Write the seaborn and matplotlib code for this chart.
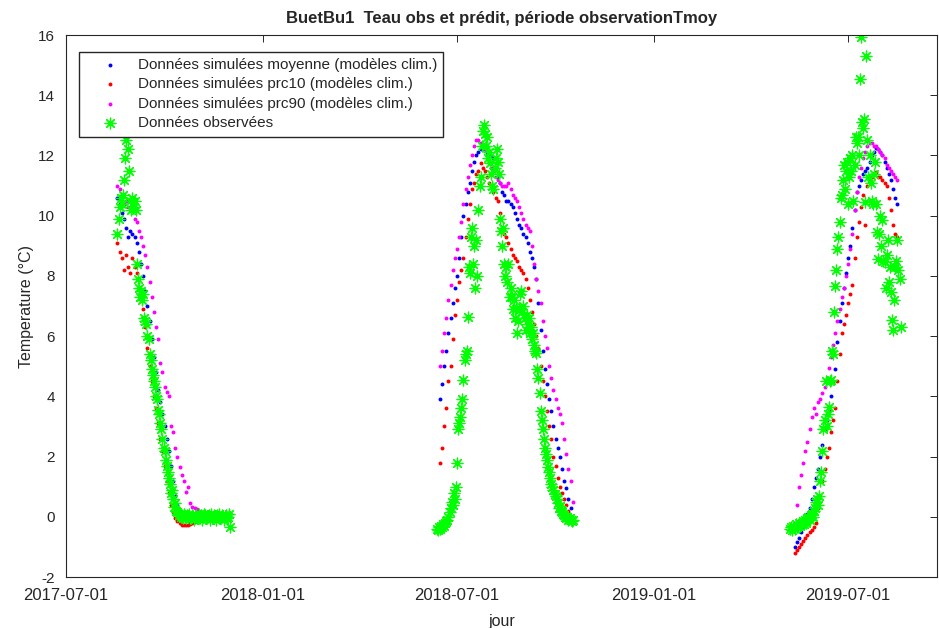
import pandas as pd
import matplotlib.pyplot as plt
import matplotlib.dates as mdates
import seaborn as sns

# Simulated series: one value every 2 days, from these start dates
sim_start = ['2017-08-18', '2018-06-15', '2019-05-12']

moy_2017 = [10.6, 10.4, 10.1, 9.9, 9.6, 9.3, 9.5, 9.4, 9.3, 9.1,
            8.8, 8.4, 8.0, 7.5, 7.0, 6.5, 5.9, 5.3, 4.8, 4.2,
            3.8, 3.4, 3.0, 2.6, 2.2, 1.7, 1.2, 0.7, 0.4, 0.2,
            0.1, 0.0, -0.05, -0.1, -0.15, -0.15, -0.1, -0.1, -0.05, 0.0]
moy_2018 = [3.9, 4.4, 5.0, 5.5, 6.1, 6.6, 7.1, 7.6, 8.0, 8.6,
            9.3, 10.0, 10.4, 10.8, 11.1, 11.5, 11.8, 12.0, 12.1, 12.2,
            12.2, 12.2, 12.1, 12.1, 12.0, 11.9, 11.6, 11.3, 11.1, 10.8,
            10.7, 10.5, 10.5, 10.4, 10.3, 10.1, 9.9, 9.7, 9.6, 9.4,
            9.3, 9.1, 8.8, 8.6, 8.3, 7.9, 7.1, 6.2, 5.5, 4.9,
            4.4, 3.9, 3.5, 3.0, 2.6, 2.3, 2.0, 1.6, 1.2, 0.95,
            0.6, 0.3, -0.1]
moy_2019 = [-1.0, -0.85, -0.7, -0.5, -0.35, -0.1, 0.1, 0.3, 0.6, 1.0,
            1.3, 1.6, 2.0, 2.4, 2.9, 3.2, 3.5, 4.0, 4.5, 4.9,
            5.8, 6.5, 7.1, 7.6, 8.1, 8.6, 9.0, 9.6, 10.2, 10.8,
            11.0, 11.2, 11.4, 11.5, 11.6, 11.8, 12.0, 12.1, 12.25, 12.2,
            12.1, 12.0, 11.8, 11.6, 11.4, 11.2, 10.9, 10.6, 10.4]

prc10_2017 = [9.1, 8.8, 8.6, 8.2, 8.7, 8.3, 8.1, 8.6, 8.3, 8.1,
              7.6, 7.3, 6.9, 6.3, 5.6, 5.0, 4.5, 4.0, 3.6, 3.1,
              2.6, 2.2, 1.7, 1.2, 0.8, 0.4, 0.15, -0.05, -0.15, -0.22,
              -0.27, -0.28, -0.28, -0.27, -0.25, -0.22, -0.18, -0.12, -0.08, -0.05]
prc10_2018 = [1.8, 2.3, 3.0, 3.6, 4.5, 5.0, 5.9, 6.7, 7.2, 7.8,
              8.2, 8.6, 9.3, 9.9, 10.4, 10.9, 11.1, 11.4, 11.5, 11.75,
              11.6, 11.5, 11.3, 11.1, 11.0, 10.8, 10.6, 10.5, 10.1, 9.6,
              9.4, 9.3, 9.1, 8.9, 8.7, 8.6, 8.5, 8.3, 8.2, 8.1,
              7.9, 7.6, 7.2, 6.8, 6.4, 6.0, 5.6, 5.0, 4.5, 4.0,
              3.5, 3.0, 2.6, 2.0, 1.7, 1.3, 1.0, 0.8, 0.6, 0.4,
              0.2, 0.0, -0.2]
prc10_2019 = [-1.2, -1.1, -1.0, -0.9, -0.8, -0.7, -0.6, -0.5, -0.45, -0.35,
              -0.2, 0.3, 0.7, 1.2, 1.6, 2.0, 2.3, 2.8, 3.2, 3.6,
              4.5, 5.4, 6.1, 6.4, 6.7, 7.1, 7.4, 7.7, 8.6, 9.3,
              9.8, 10.3, 10.7, 9.7, 11.0, 11.2, 11.3, 11.4, 11.45, 11.3,
              11.3, 11.2, 11.1, 11.0, 10.6, 10.2, 9.7, 9.4, 9.3]

prc90_2017 = [11.0, 10.9, 10.6, 10.4, 10.5, 10.3, 10.5, 10.2, 9.9, 9.8,
              9.5, 9.3, 9.0, 8.7, 8.3, 7.8, 7.3, 6.8, 6.3, 5.9,
              5.1, 4.8, 4.3, 4.15, 4.0, 3.0, 2.8, 2.3, 2.0, 1.66,
              1.4, 1.2, 0.83, 1.0, 0.46, 0.33, 0.3, 0.25, 0.2, 0.1]
prc90_2018 = [5.0, 5.5, 6.1, 6.6, 7.2, 7.7, 8.2, 8.6, 8.9, 9.3,
              9.8, 10.4, 10.9, 11.3, 11.7, 12.0, 12.3, 12.5, 12.5, 12.4,
              12.3, 12.2, 12.0, 11.8, 11.6, 11.5, 11.3, 11.2, 11.1, 11.0,
              11.0, 11.0, 11.1, 10.9, 10.7, 10.6, 10.5, 10.3, 10.1, 9.9,
              9.7, 9.6, 9.5, 9.0, 8.4, 7.9, 7.5, 7.1, 6.5, 6.0,
              5.6, 5.0, 4.6, 4.2, 3.9, 3.6, 3.4, 3.1, 2.6, 2.1,
              1.6, 1.2, 0.5]
prc90_2019 = [-0.2, 0.4, 1.0, 1.4, 1.8, 2.2, 2.5, 2.9, 3.3, 3.6,
              3.4, 3.8, 3.9, 4.1, 4.3, 4.6, 4.95, 5.3, 5.7, 6.1,
              6.5, 6.9, 7.3, 7.6, 8.0, 8.4, 8.9, 9.4, 10.2, 10.8,
              11.3, 11.6, 11.9, 12.1, 12.3, 12.4, 12.4, 12.3, 12.3, 12.2,
              12.1, 12.0, 11.9, 11.7, 11.6, 11.5, 11.4, 11.3, 11.2]

# Observed series: daily values, from these start dates
obs_start = ['2017-08-18', '2018-06-12', '2019-05-08']

obs_2017 = [9.4, 9.9, 10.3, 10.6, 10.4, 10.7, 11.2, 11.9, 12.5, 13.1, 12.2, 11.5, 10.5, 10.2,
            10.6, 10.3, 10.5, 10.2, 8.4, 7.9, 7.6, 7.3, 7.5, 7.2,
            7.4, 6.6, 6.5, 6.4, 6.0, 5.9, 5.4, 5.2, 4.9, 4.7,
            4.5, 4.3, 4.0, 3.9, 3.55, 3.4, 3.1, 2.9, 2.6, 2.3,
            2.2, 1.9, 1.7, 1.5, 1.3, 1.1, 0.8, 0.9, 0.6, 0.33,
            0.45, 0.2, 0.15, 0.05, 0.1, 0.0, 0.05, -0.05, 0.1, 0.0,
            -0.05, 0.05, 0.0, 0.1, -0.05, 0.0, 0.05, -0.1, 0.0, 0.05, -0.05,
            0.0, 0.1, -0.05, 0.05, -0.1, 0.0, 0.1, 0.05, -0.05, 0.0,
            0.05, -0.1, 0.1, 0.0, -0.05, 0.05, 0.0, -0.1, 0.05, 0.0,
            0.1, -0.05, 0.0, 0.05, -0.1, 0.0, 0.05, -0.05, 0.0, 0.1,
            -0.35]
obs_2018 = [-0.4, -0.45, -0.35, -0.4, -0.3, -0.35, -0.25, -0.3, -0.2, -0.15,
            -0.1, 0.0, 0.15, 0.3, 0.5, 0.4, 0.8, 0.6, 1.0,
            1.8, 2.9, 3.1, 3.3, 3.6, 3.9, 4.55, 5.2, 5.4, 5.5,
            6.65, 8.3, 8.1, 9.3, 9.6, 8.4, 9.0, 7.6, 9.2, 8.0,
            10.2, 11.0, 11.3, 12.3, 12.8, 13.0, 12.7, 12.3, 12.6, 11.9, 12.1,
            11.75, 11.4, 11.0, 10.9, 11.6, 11.9, 12.2, 11.8, 11.4, 9.9,
            9.5, 9.0, 9.6, 8.4, 8.0, 8.3, 7.8, 8.4, 7.3, 7.6,
            7.3, 6.9, 7.2, 6.6, 6.9, 6.1, 6.5, 6.9, 7.4, 7.5, 6.8,
            7.0, 6.6, 6.2, 6.7, 6.4, 6.6, 6.1, 6.3, 5.9, 6.1,
            5.7, 5.5, 5.45, 4.9, 4.6, 4.1, 3.5, 3.2, 2.9, 2.6,
            2.3, 2.1, 1.9, 1.66, 1.5, 1.3, 1.1, 1.0, 0.9, 0.75,
            0.7, 0.6, 0.45, 0.3, 0.35, 0.2, 0.15, 0.1, 0.05, 0.0,
            -0.05, 0.0, -0.1, -0.05, -0.1, -0.15, -0.1]
obs_2019 = [-0.4, -0.35, -0.45, -0.3, -0.4, -0.25, -0.35, -0.3, -0.2, -0.3,
            -0.25, -0.2, -0.15, -0.25, -0.1, -0.2, -0.05, 0.0, -0.1, 0.05,
            0.1, 0.0, 0.2, 0.3,
            0.5, 0.6, 0.4, 0.7, 1.2, 1.5, 2.2, 2.9, 3.2, 4.5,
            3.0, 3.4, 3.65, 4.5, 4.55, 5.5, 5.4, 6.8, 7.65, 8.2,
            8.9, 9.3, 9.8, 10.6, 10.7, 11.2, 11.7, 10.9, 11.5, 11.8,
            10.4, 11.3, 11.9, 11.5, 12.0, 10.5, 11.7, 12.6, 12.4, 12.6,
            12.0, 14.55, 15.95, 13.1, 12.9, 13.2, 10.45, 15.3, 12.5, 11.3,
            12.0, 11.1, 10.5, 10.4, 11.4, 11.8, 10.4, 9.45, 8.55, 9.4, 10.0,
            9.0, 9.85, 8.5, 8.45, 7.6, 8.7, 9.2, 7.8, 8.3, 7.45,
            6.55, 6.2, 7.2, 8.3, 8.5, 9.2, 8.2, 7.9, 6.3]


def to_frame(starts, chunks, step):
    # stack the periods of one series into a single table
    parts = []
    for start, vals in zip(starts, chunks):
        days = pd.date_range(start, periods=len(vals), freq=step)
        parts.append(pd.DataFrame({'jour': days, 'temp': vals}))
    return pd.concat(parts, ignore_index=True)


moy = to_frame(sim_start, [moy_2017, moy_2018, moy_2019], '2D')
prc10 = to_frame(sim_start, [prc10_2017, prc10_2018, prc10_2019], '2D')
prc90 = to_frame(sim_start, [prc90_2017, prc90_2018, prc90_2019], '2D')
obs = to_frame(obs_start, [obs_2017, obs_2018, obs_2019], '1D')

sns.set_style('white')
plt.rcParams['font.family'] = ['Liberation Sans', 'DejaVu Sans']
plt.rcParams['axes.unicode_minus'] = False

fig = plt.figure(figsize=(9.39, 6.28), dpi=100)
ax = fig.add_axes([0.0703, 0.0812, 0.9276, 0.863])

dot = dict(marker='o', s=8, linewidth=0, ax=ax)
sns.scatterplot(data=moy, x='jour', y='temp', color=(0, 0, 1),
                label='Données simulées moyenne (modèles clim.)', **dot)
sns.scatterplot(data=prc10, x='jour', y='temp', color=(1, 0, 0),
                label='Données simulées prc10 (modèles clim.)', **dot)
sns.scatterplot(data=prc90, x='jour', y='temp', color=(1, 0, 1),
                label='Données simulées prc90 (modèles clim.)', **dot)
sns.scatterplot(data=obs, x='jour', y='temp', color=(0, 1, 0), marker=(8, 2, 0),
                s=60, linewidth=0.9, label='Données observées', ax=ax)

ax.set_xlim(pd.Timestamp('2017-07-01'), pd.Timestamp('2019-09-22'))
ax.set_ylim(-2, 16)
ax.set_yticks(range(-2, 17, 2))
ax.xaxis.set_major_locator(mdates.MonthLocator(bymonth=[1, 7]))
ax.xaxis.set_major_formatter(mdates.DateFormatter('%Y-%m-%d'))
ax.tick_params(direction='in', top=True, right=True, length=5, width=0.7,
               color='#262626', labelcolor='#262626')
ax.tick_params(axis='x', labelsize=12, pad=8)
ax.tick_params(axis='y', labelsize=11, pad=8)
for side in ax.spines.values():
    side.set_color('#262626')
    side.set_linewidth(0.8)

ax.set_xlabel('jour', fontsize=11.5, color='#262626', labelpad=8)
ax.set_ylabel('Temperature (°C)', fontsize=11.5, color='#262626', labelpad=3)
ax.set_title('BuetBu1  Teau obs et prédit, période observationTmoy',
             fontsize=12, fontweight='bold', pad=9)

ax.legend(loc='upper left', bbox_to_anchor=(0.015, 0.969), borderaxespad=0,
          fancybox=False, framealpha=1, edgecolor='#262626', fontsize=11,
          handlelength=3.2, handletextpad=0.25, borderpad=0.4, labelspacing=0.36)

fig.savefig('out.png', dpi=100)
